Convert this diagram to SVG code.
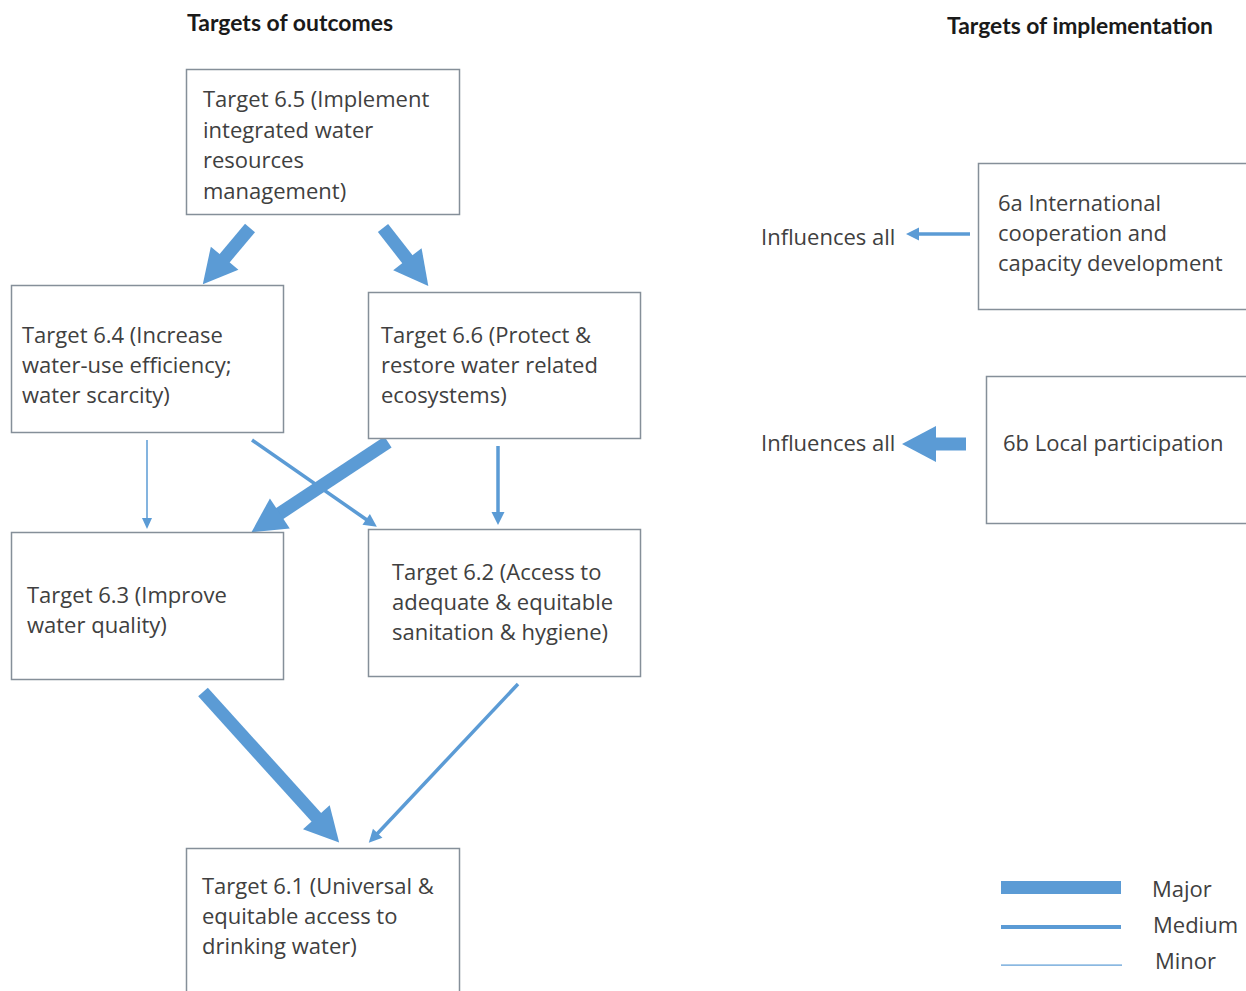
<svg xmlns="http://www.w3.org/2000/svg" width="1246" height="991" viewBox="0 0 1246 991">
<style>
.box{fill:#ffffff;stroke:#858f99;stroke-width:1.5}
.t{font-family:"Open Sans","Liberation Sans",sans-serif;font-size:22px;fill:#404040}
.title{font-family:Lato,"Liberation Sans",sans-serif;font-weight:bold;font-size:22px;fill:#1a1a1a}
.major{stroke:#5b9bd5;stroke-width:13;fill:none}
.medium{stroke:#5b9bd5;stroke-width:3.5;fill:none}
.minor{stroke:#5b9bd5;stroke-width:1.5;fill:none}
</style>
<defs>
<marker id="hMaj" markerUnits="userSpaceOnUse" refX="0" refY="0" markerWidth="40" markerHeight="40" orient="auto" overflow="visible"><path d="M-1,-18 L33,0 L-1,18 z" fill="#5b9bd5"/></marker>
<marker id="hMed" markerUnits="userSpaceOnUse" refX="0" refY="0" markerWidth="20" markerHeight="20" orient="auto" overflow="visible"><path d="M-1,-6.5 L12,0 L-1,6.5 z" fill="#5b9bd5"/></marker>
<marker id="hMin" markerUnits="userSpaceOnUse" refX="0" refY="0" markerWidth="20" markerHeight="20" orient="auto" overflow="visible"><path d="M-1,-5 L10,0 L-1,5 z" fill="#5b9bd5"/></marker>
</defs>
<rect width="1246" height="991" fill="#ffffff"/>
<text class="title" x="187" y="31" textLength="206" lengthAdjust="spacingAndGlyphs">Targets of outcomes</text>
<text class="title" x="947" y="34" textLength="266" lengthAdjust="spacingAndGlyphs">Targets of implementation</text>

<g id="connectors">
<line class="major" x1="250" y1="228" x2="224" y2="259" marker-end="url(#hMaj)"/>
<line class="major" x1="383" y1="228" x2="408" y2="260" marker-end="url(#hMaj)"/>
<line class="minor" x1="147" y1="440" x2="147" y2="519" marker-end="url(#hMin)"/>
<line class="medium" x1="252" y1="440" x2="367" y2="520" marker-end="url(#hMed)"/>
<line class="major" x1="388" y1="442" x2="279" y2="514" marker-end="url(#hMaj)"/>
<line class="medium" x1="498" y1="446" x2="498" y2="513" marker-end="url(#hMed)"/>
<line class="major" x1="203" y1="692" x2="317" y2="818" marker-end="url(#hMaj)"/>
<line class="medium" x1="518" y1="684" x2="377" y2="834" marker-end="url(#hMed)"/>
<line class="medium" x1="970" y1="234" x2="918" y2="234" marker-end="url(#hMed)"/>
<line class="major" x1="966" y1="444" x2="935" y2="444" marker-end="url(#hMaj)"/>
</g>

<g id="n65"><rect class="box" x="186.5" y="69.5" width="273" height="145"/>
<text class="t" x="203" y="107">Target 6.5 (Implement</text>
<text class="t" x="203" y="138">integrated water</text>
<text class="t" x="203" y="168">resources</text>
<text class="t" x="203" y="199">management)</text></g>

<g id="n64"><rect class="box" x="11.5" y="285.5" width="272" height="147"/>
<text class="t" x="22" y="343">Target 6.4 (Increase</text>
<text class="t" x="22" y="373">water-use efficiency;</text>
<text class="t" x="22" y="403">water scarcity)</text></g>

<g id="n66"><rect class="box" x="368.5" y="292.5" width="272" height="146"/>
<text class="t" x="381" y="343">Target 6.6 (Protect &amp;</text>
<text class="t" x="381" y="373">restore water related</text>
<text class="t" x="381" y="403">ecosystems)</text></g>

<g id="n63"><rect class="box" x="11.5" y="532.5" width="272" height="147"/>
<text class="t" x="27" y="603">Target 6.3 (Improve</text>
<text class="t" x="27" y="633">water quality)</text></g>

<g id="n62"><rect class="box" x="368.5" y="529.5" width="272" height="147"/>
<text class="t" x="392" y="580">Target 6.2 (Access to</text>
<text class="t" x="392" y="610">adequate &amp; equitable</text>
<text class="t" x="392" y="640">sanitation &amp; hygiene)</text></g>

<g id="n61"><rect class="box" x="186.5" y="848.5" width="273" height="160"/>
<text class="t" x="202" y="894">Target 6.1 (Universal &amp;</text>
<text class="t" x="202" y="924">equitable access to</text>
<text class="t" x="202" y="954">drinking water)</text></g>

<g id="n6a"><rect class="box" x="978.5" y="163.5" width="280" height="146"/>
<text class="t" x="998" y="211">6a International</text>
<text class="t" x="998" y="241">cooperation and</text>
<text class="t" x="998" y="271">capacity development</text></g>

<g id="n6b"><rect class="box" x="986.5" y="376.5" width="280" height="147"/>
<text class="t" x="1003" y="451">6b Local participation</text></g>

<g id="infl">
<text class="t" x="761" y="245">Influences all</text>
<text class="t" x="761" y="451">Influences all</text>
</g>

<g id="legend">
<rect x="1001" y="881" width="120" height="13" fill="#5b9bd5"/>
<rect x="1001" y="925" width="120" height="4" fill="#5b9bd5"/>
<rect x="1001" y="964.5" width="121" height="1.2" fill="#5b9bd5"/>
<text class="t" x="1152" y="897">Major</text>
<text class="t" x="1153" y="933">Medium</text>
<text class="t" x="1155" y="969">Minor</text>
</g>
</svg>
